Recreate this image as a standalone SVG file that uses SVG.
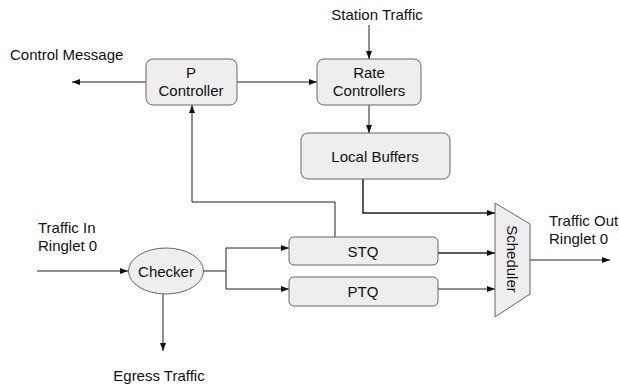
<svg xmlns="http://www.w3.org/2000/svg" width="619" height="388" viewBox="0 0 619 388">
<style>
.box{fill:#eeeeee;stroke:#666666;stroke-width:1}
.t{font-family:"Liberation Sans",Arial,sans-serif;font-size:15px;fill:#111111}
.c{text-anchor:middle}
.ln{fill:none;stroke:#222222;stroke-width:1}
.bold{stroke-width:1.5}
</style>
<defs>
<marker id="ah" viewBox="0 0 8 6" refX="8" refY="3" markerWidth="8" markerHeight="6" markerUnits="userSpaceOnUse" orient="auto">
<path d="M0,0 L8,3 L0,6 Z" fill="#111111"/>
</marker>
</defs>
<rect width="619" height="388" fill="#ffffff"/>
<g id="connectors">
<line class="ln" x1="146" y1="82" x2="72" y2="82" marker-end="url(#ah)"/>
<line class="ln" x1="237" y1="82" x2="317" y2="82" marker-end="url(#ah)"/>
<line class="ln" x1="369" y1="25" x2="369" y2="59" marker-end="url(#ah)"/>
<line class="ln" x1="369" y1="105" x2="369" y2="133" marker-end="url(#ah)"/>
<polyline class="ln bold" points="363,179 363,213 495,213" marker-end="url(#ah)"/>
<polyline class="ln" points="335,237 335,202 192,202 192,105" marker-end="url(#ah)"/>
<line class="ln bold" x1="438" y1="253" x2="495" y2="253" marker-end="url(#ah)"/>
<line class="ln" x1="438" y1="289" x2="495" y2="289" marker-end="url(#ah)"/>
<line class="ln" x1="530" y1="260" x2="610" y2="260" marker-end="url(#ah)"/>
<line class="ln" x1="37" y1="271" x2="128" y2="271" marker-end="url(#ah)"/>
<polyline class="ln" points="203,271 226,271"/>
<polyline class="ln" points="226,248 226,289 289,289" marker-end="url(#ah)"/>
<line class="ln" x1="226" y1="248" x2="289" y2="248" marker-end="url(#ah)"/>
<line class="ln" x1="163" y1="294" x2="163" y2="351" marker-end="url(#ah)"/>
</g>
<g id="p-controller">
<rect class="box" x="146" y="59" width="91" height="46" rx="7"/>
<text class="t c" x="191" y="78">P</text>
<text class="t c" x="191" y="96">Controller</text>
</g>
<g id="rate-controllers">
<rect class="box" x="317" y="59" width="104" height="46" rx="7"/>
<text class="t c" x="369" y="78">Rate</text>
<text class="t c" x="369" y="96">Controllers</text>
</g>
<g id="local-buffers">
<rect class="box" x="301" y="133" width="149" height="46" rx="7"/>
<text class="t c" x="375" y="162">Local Buffers</text>
</g>
<g id="stq">
<rect class="box" x="289" y="237" width="149" height="28" rx="5"/>
<text class="t c" x="363" y="257">STQ</text>
</g>
<g id="ptq">
<rect class="box" x="289" y="277" width="149" height="29" rx="5"/>
<text class="t c" x="363" y="297">PTQ</text>
</g>
<g id="checker">
<ellipse class="box" cx="166" cy="271" rx="37.5" ry="23"/>
<text class="t c" x="166" y="277">Checker</text>
</g>
<g id="scheduler">
<polygon class="box" points="495,203 530,224 530,294 495,317"/>
<text class="t c" transform="translate(507,259) rotate(90)" x="0" y="0">Scheduler</text>
</g>
<g id="labels">
<text class="t" x="10" y="60">Control Message</text>
<text class="t c" x="377" y="20">Station Traffic</text>
<text class="t" x="549" y="226">Traffic Out</text>
<text class="t" x="549" y="244">Ringlet 0</text>
<text class="t" x="38" y="233">Traffic In</text>
<text class="t" x="38" y="251">Ringlet 0</text>
<text class="t c" x="159" y="381">Egress Traffic</text>
</g>
</svg>
